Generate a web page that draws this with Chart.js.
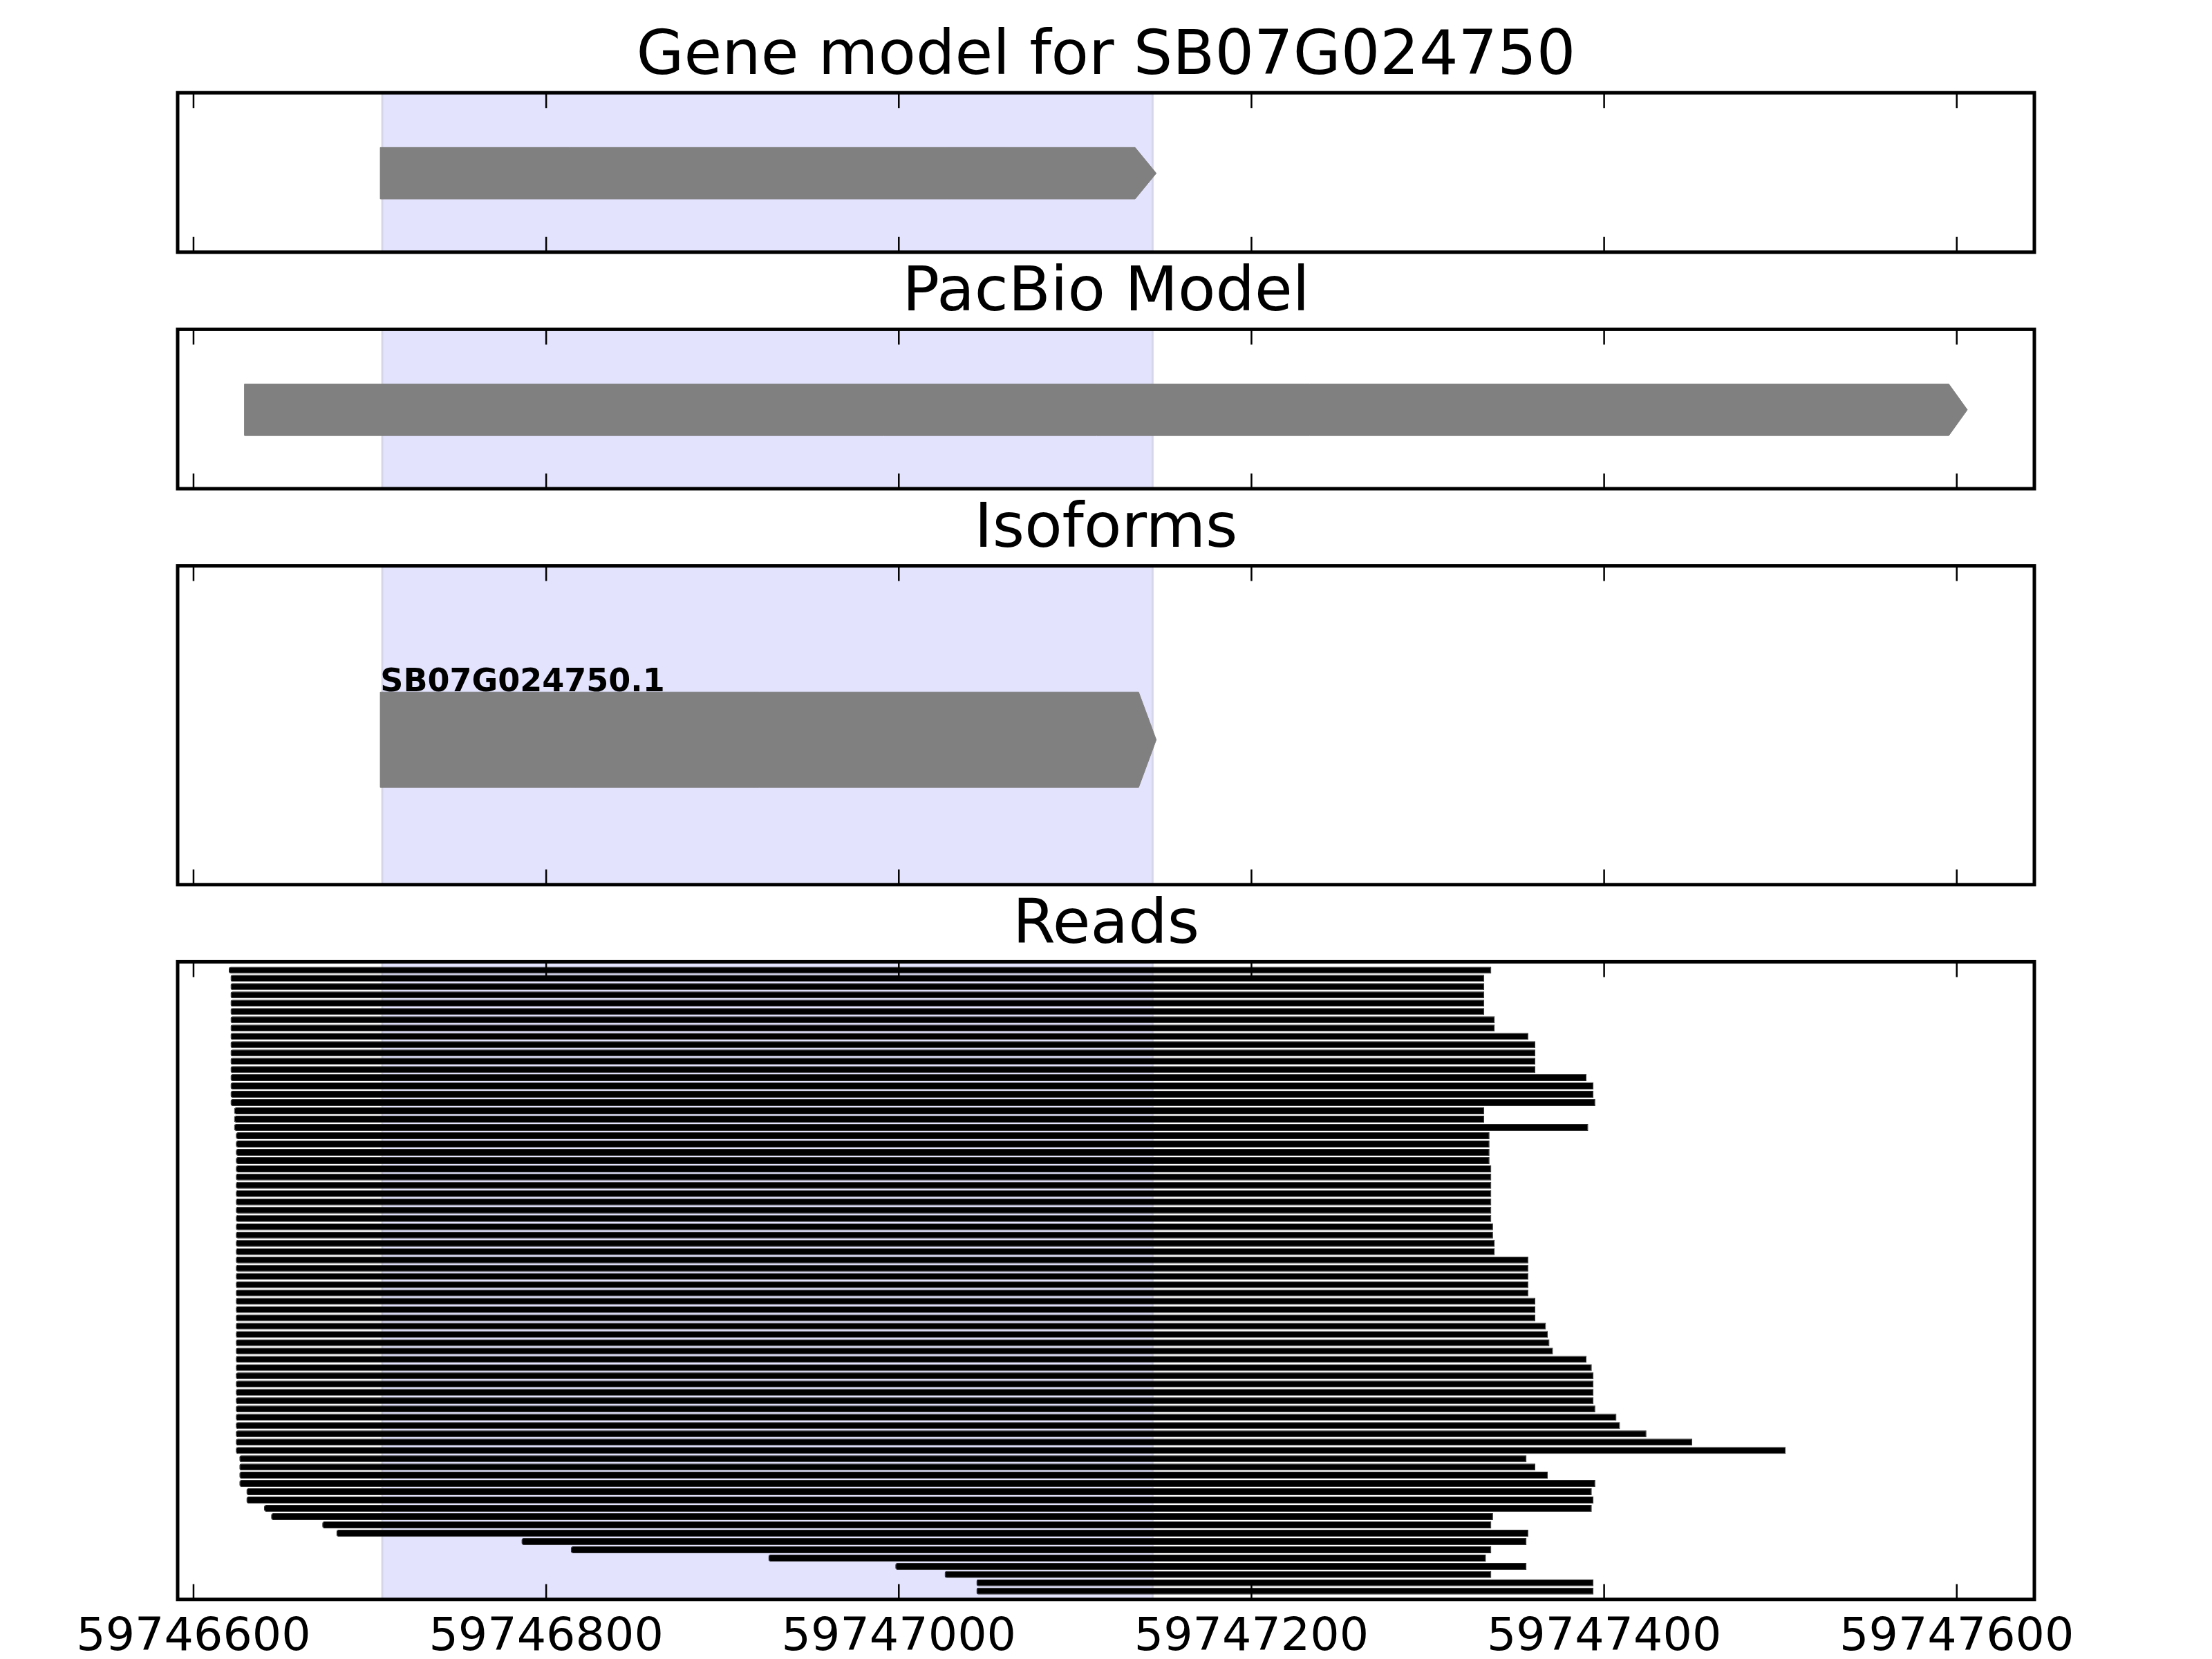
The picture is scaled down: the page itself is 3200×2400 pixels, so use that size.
<!DOCTYPE html>
<html>
<head>
<meta charset="utf-8">
<title>Gene model for SB07G024750</title>
<script src="https://cdn.jsdelivr.net/npm/chart.js@4.4.1/dist/chart.umd.min.js"></script>
<style>
  html, body { margin: 0; padding: 0; background: #fff; }
  #wrap { position: relative; width: 3200px; height: 2400px; background: #fff; overflow: hidden; }
  #wrap canvas { position: absolute; left: 0; }
</style>
</head>
<body>
<div id="wrap">
  <canvas id="gene"></canvas>
  <canvas id="pacbio"></canvas>
  <canvas id="isoforms"></canvas>
  <canvas id="reads"></canvas>
</div>
<script>
// genomic window shown and the tick labels along it
const xMin = 59746591;
const xMax = 59747644;
const tickValues = [59746600, 59746800, 59747000, 59747200, 59747400, 59747600];

// shaded region = annotated gene
const highlight = [59746707, 59747144];

// models, all on the + strand: [start, end]
const geneModel = [59746706, 59747146];
const pacbioModel = [59746629, 59747606];
const isoformNames = ["SB07G024750.1"];
const isoformStarts = [59746706];
const isoformEnds = [59747146];

// PacBio reads, top row first
const readStarts = [
  59746620, 59746621, 59746621, 59746621, 59746621, 59746621, 59746621, 59746621, 59746621, 59746621,
  59746621, 59746621, 59746621, 59746621, 59746621, 59746621, 59746621, 59746623, 59746623, 59746623,
  59746624, 59746624, 59746624, 59746624, 59746624, 59746624, 59746624, 59746624, 59746624, 59746624,
  59746624, 59746624, 59746624, 59746624, 59746624, 59746624, 59746624, 59746624, 59746624, 59746624,
  59746624, 59746624, 59746624, 59746624, 59746624, 59746624, 59746624, 59746624, 59746624, 59746624,
  59746624, 59746624, 59746624, 59746624, 59746624, 59746624, 59746624, 59746624, 59746624, 59746626,
  59746626, 59746626, 59746626, 59746630, 59746630, 59746640, 59746644, 59746673, 59746681, 59746786,
  59746814, 59746926, 59746998, 59747026, 59747044, 59747044
];
const readEnds = [
  59747336, 59747332, 59747332, 59747332, 59747332, 59747332, 59747338, 59747338, 59747357, 59747361,
  59747361, 59747361, 59747361, 59747390, 59747394, 59747394, 59747395, 59747332, 59747332, 59747391,
  59747335, 59747335, 59747335, 59747335, 59747336, 59747336, 59747336, 59747336, 59747336, 59747336,
  59747336, 59747337, 59747337, 59747338, 59747338, 59747357, 59747357, 59747357, 59747357, 59747357,
  59747361, 59747361, 59747361, 59747367, 59747368, 59747369, 59747371, 59747390, 59747393, 59747394,
  59747394, 59747394, 59747394, 59747395, 59747407, 59747409, 59747424, 59747450, 59747503, 59747356,
  59747361, 59747368, 59747395, 59747393, 59747394, 59747393, 59747337, 59747336, 59747357, 59747356,
  59747336, 59747333, 59747356, 59747336, 59747394, 59747394
];

const FONT = "'DejaVu Sans', sans-serif";
const TITLE_SIZE = 89;
const TITLE_GAP = 6.2;
const AXIS_H = 110;
const MODEL_BAND = [1.0, 1.97];
const ISO_BAND = [3.05, 6.04];

// panel boxes in page pixels (height ratios 1:1:2:4)
const panels = {
  gene:     { top: 134.2,  bottom: 364.8,  title: "Gene model for SB07G024750" },
  pacbio:   { top: 476.4,  bottom: 707.0,  title: "PacBio Model" },
  isoforms: { top: 818.6,  bottom: 1279.8, title: "Isoforms" },
  reads:    { top: 1391.4, bottom: 2313.8, title: "Reads", axis: true }
};

function arrowPoints(start, end, yLo, yHi, head) {
  const yMid = (yLo + yHi) / 2;
  return [
    { x: start, y: yLo }, { x: end - head, y: yLo }, { x: end, y: yMid },
    { x: end - head, y: yHi }, { x: start, y: yHi }, { x: start, y: yLo }
  ];
}

function arrowDataset(points) {
  return {
    data: points,
    showLine: true,
    fill: "shape",
    tension: 0,
    pointRadius: 0,
    backgroundColor: "#808080",
    borderColor: "#808080",
    borderWidth: 1
  };
}

const trackDecor = {
  id: "trackDecor",
  beforeDatasetsDraw(chart) {
    const { ctx, chartArea: a, scales: { x } } = chart;
    const x0 = x.getPixelForValue(highlight[0]);
    const x1 = x.getPixelForValue(highlight[1]);
    ctx.save();
    ctx.fillStyle = "rgb(227,227,254)";
    ctx.fillRect(x0, a.top, x1 - x0, a.bottom - a.top);
    ctx.strokeStyle = "rgba(200,200,220,0.6)";
    ctx.lineWidth = 3;
    ctx.beginPath();
    ctx.moveTo(x0, a.top); ctx.lineTo(x0, a.bottom);
    ctx.moveTo(x1, a.top); ctx.lineTo(x1, a.bottom);
    ctx.stroke();
    ctx.restore();
  },
  afterDatasetsDraw(chart) {
    const { ctx, chartArea: a, scales: { x } } = chart;
    ctx.save();
    ctx.strokeStyle = "#000";
    ctx.lineWidth = 2.5;
    ctx.beginPath();
    tickValues.forEach(v => {
      const px = x.getPixelForValue(v);
      ctx.moveTo(px, a.top); ctx.lineTo(px, a.top + 22);
      ctx.moveTo(px, a.bottom); ctx.lineTo(px, a.bottom - 22);
    });
    ctx.stroke();
    ctx.lineWidth = 5;
    ctx.strokeRect(a.left, a.top, a.right - a.left, a.bottom - a.top);
    ctx.restore();
  }
};

const isoformLabels = {
  id: "isoformLabels",
  afterDatasetsDraw(chart) {
    const { ctx, scales: { x, y } } = chart;
    ctx.save();
    ctx.font = "bold 46px " + FONT;
    ctx.fillStyle = "#000";
    ctx.textBaseline = "alphabetic";
    ctx.textAlign = "left";
    isoformNames.forEach((name, i) => {
      ctx.fillText(name, x.getPixelForValue(isoformStarts[i]), y.getPixelForValue(ISO_BAND[1]) - 1);
    });
    ctx.restore();
  }
};

function makeChart(id, type, data, yScale, extra) {
  extra = extra || {};
  const p = panels[id];
  const canvas = document.getElementById(id);
  const axisH = p.axis ? AXIS_H : 0;
  const cTop = Math.floor(p.top - TITLE_SIZE - TITLE_GAP - 20);
  const cBottom = Math.ceil(p.bottom + axisH + 15);
  canvas.style.top = cTop + "px";
  canvas.width = 3200;
  canvas.height = cBottom - cTop;

  const xScale = Object.assign({
    type: "linear",
    min: xMin,
    max: xMax,
    display: false,
    afterBuildTicks: s => { s.ticks = tickValues.map(v => ({ value: v })); }
  }, extra.x || {});

  return new Chart(canvas, {
    type,
    data,
    options: {
      indexAxis: extra.indexAxis || "x",
      responsive: false,
      animation: false,
      devicePixelRatio: 1,
      layout: {
        padding: {
          left: 257,
          right: 257,
          top: p.top - cTop - TITLE_SIZE - TITLE_GAP,
          bottom: cBottom - p.bottom - axisH
        }
      },
      plugins: {
        legend: { display: false },
        tooltip: { enabled: false },
        title: {
          display: true,
          text: p.title,
          color: "#000",
          font: { family: FONT, size: TITLE_SIZE, weight: "normal", lineHeight: 1 },
          padding: { top: 0, bottom: TITLE_GAP }
        }
      },
      scales: { x: xScale, y: yScale }
    },
    plugins: [trackDecor].concat(extra.plugins || [])
  });
}

makeChart("gene", "scatter", {
  datasets: [arrowDataset(arrowPoints(geneModel[0], geneModel[1], MODEL_BAND[0], MODEL_BAND[1], 12))]
}, { type: "linear", min: 0, max: 3, display: false });

makeChart("pacbio", "scatter", {
  datasets: [arrowDataset(arrowPoints(pacbioModel[0], pacbioModel[1], MODEL_BAND[0], MODEL_BAND[1], 10.5))]
}, { type: "linear", min: 0, max: 3, display: false });

makeChart("isoforms", "scatter", {
  datasets: isoformNames.map((n, i) =>
    arrowDataset(arrowPoints(isoformStarts[i], isoformEnds[i], ISO_BAND[0], ISO_BAND[1], 10)))
}, { type: "linear", min: 0, max: 10, display: false }, { plugins: [isoformLabels] });

makeChart("reads", "bar", {
  datasets: [{
    data: readStarts.map((s, i) => ({ x: [s, readEnds[i]], y: i })),
    backgroundColor: "#000",
    borderColor: "#303030",
    borderWidth: 1,
    borderSkipped: false,
    borderRadius: { topLeft: 3, bottomLeft: 3, topRight: 0, bottomRight: 0 },
    barPercentage: 0.835,
    categoryPercentage: 1
  }]
}, { type: "linear", min: -1, max: 76, reverse: true, offset: false, display: false }, {
  indexAxis: "y",
  x: {
    display: true,
    beginAtZero: false,
    offset: false,
    grid: { display: false, drawTicks: false },
    border: { display: false },
    ticks: {
      color: "#000",
      font: { family: FONT, size: 66.7 },
      padding: 16,
      maxRotation: 0,
      autoSkip: false,
      callback: v => String(v)
    },
    afterFit: s => { s.height = AXIS_H; }
  }
});
</script>
</body>
</html>
